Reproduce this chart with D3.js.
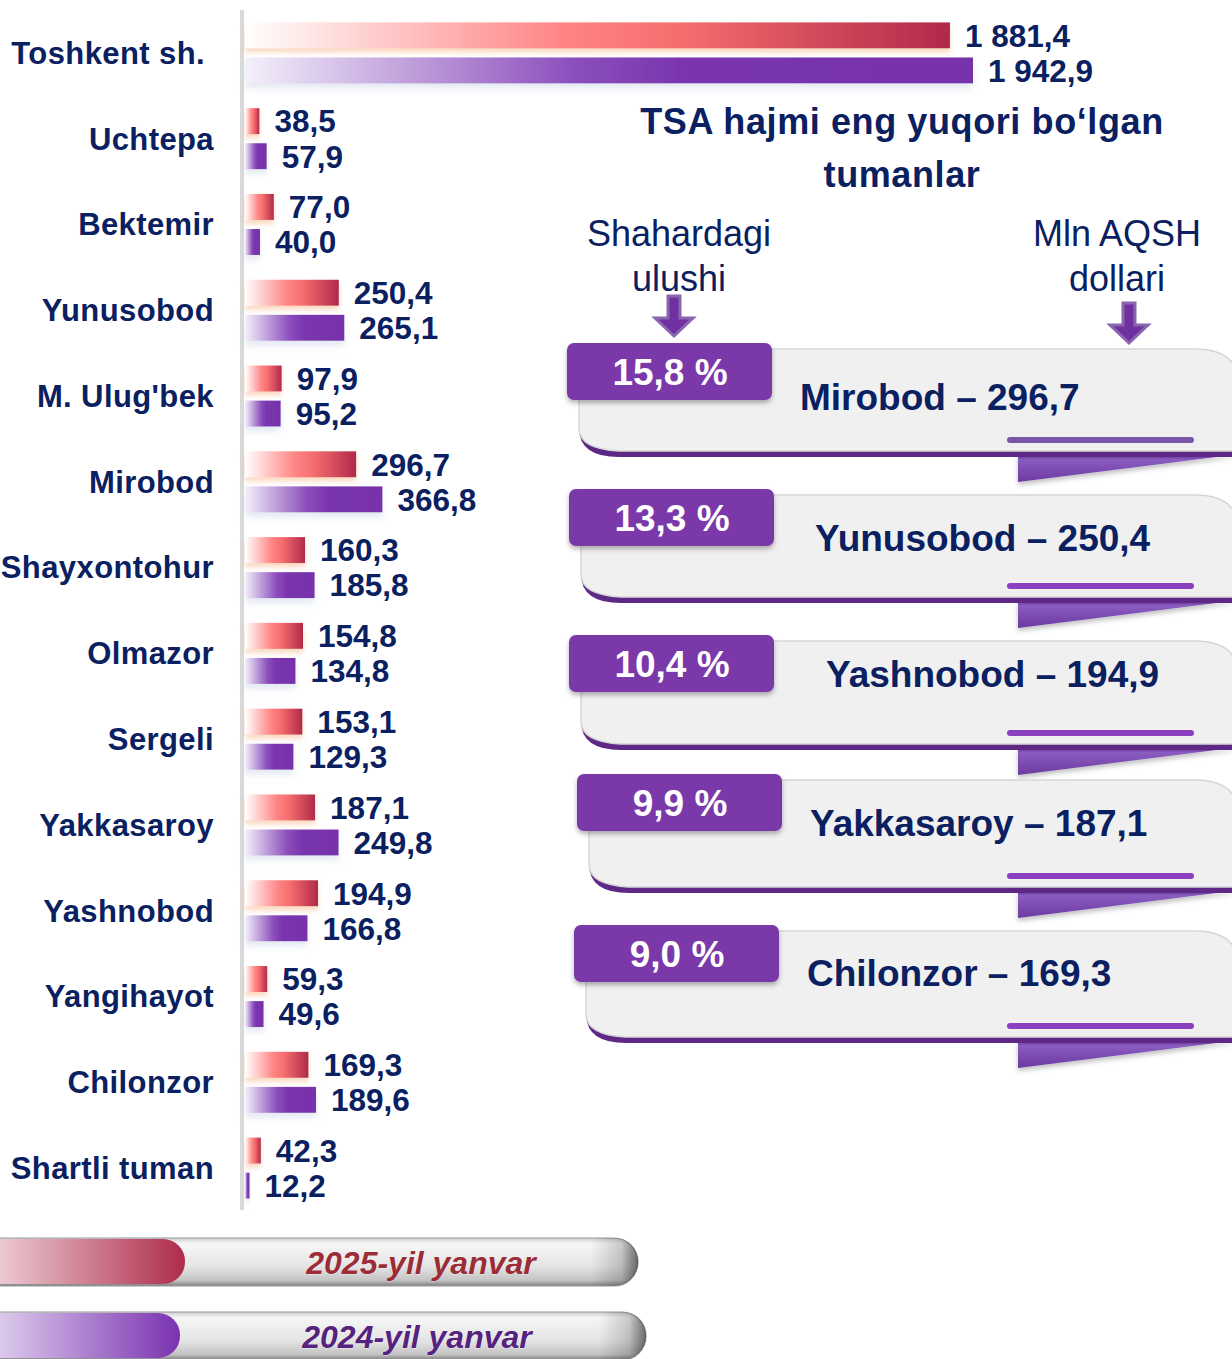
<!DOCTYPE html>
<html>
<head>
<meta charset="utf-8">
<script src="https://cdn.jsdelivr.net/npm/d3@7"></script>
<style>
  html, body { margin: 0; padding: 0; background: #ffffff; }
  svg { display: block; font-family: "Liberation Sans", Arial, sans-serif; }
</style>
</head>
<body>
<svg id="chart" width="1232" height="1359"></svg>
<script>
// ---------- DATA ----------
const categories = ["Toshkent sh.", "Uchtepa", "Bektemir", "Yunusobod", "M. Ulug'bek", "Mirobod",
  "Shayxontohur", "Olmazor", "Sergeli", "Yakkasaroy", "Yashnobod", "Yangihayot", "Chilonzor", "Shartli tuman"];
const values2025 = [1881.4, 38.5, 77.0, 250.4, 97.9, 296.7, 160.3, 154.8, 153.1, 187.1, 194.9, 59.3, 169.3, 42.3];
const values2024 = [1942.9, 57.9, 40.0, 265.1, 95.2, 366.8, 185.8, 134.8, 129.3, 249.8, 166.8, 49.6, 189.6, 12.2];
const seriesNames = ["2025-yil yanvar", "2024-yil yanvar"];

const panelTitle = ["TSA hajmi eng yuqori bo\u2018lgan", "tumanlar"];
const shareHeader = ["Shahardagi", "ulushi"];
const unitHeader = ["Mln AQSH", "dollari"];
const topDistricts = ["Mirobod", "Yunusobod", "Yashnobod", "Yakkasaroy", "Chilonzor"];
const topValues = [296.7, 250.4, 194.9, 187.1, 169.3];
const topShares = [15.8, 13.3, 10.4, 9.9, 9.0];

// ---------- LAYOUT ----------
const navy = "#0a2060";
const cardTop = [343, 489, 635, 774, 925];
const cardBottom = [452, 598, 745, 888, 1038];
const cardTabX = [567, 569, 569, 577, 574];
const cardTextX = [800, 815, 826, 810, 807];
const cardTextY = [397, 538, 674, 823, 973];

const locale = d3.formatLocale({decimal: ",", thousands: "\u00a0", grouping: [3], currency: ["", ""]});
const fmt = locale.format(",.1f");

const svg = d3.select("#chart");
const defs = svg.append("defs");

function hGrad(id, stops) {
  const g = defs.append("linearGradient").attr("id", id).attr("x1", "0%").attr("x2", "100%").attr("y1", "0%").attr("y2", "0%");
  stops.forEach(s => g.append("stop").attr("offset", s[0]).attr("stop-color", s[1]).attr("stop-opacity", s[2] == null ? 1 : s[2]));
}
function vGrad(id, stops) {
  const g = defs.append("linearGradient").attr("id", id).attr("x1", "0%").attr("x2", "0%").attr("y1", "0%").attr("y2", "100%");
  stops.forEach(s => g.append("stop").attr("offset", s[0]).attr("stop-color", s[1]).attr("stop-opacity", s[2] == null ? 1 : s[2]));
}
hGrad("gRed", [[0, "#ffffff"], [0.45, "#ff8585"], [0.62, "#f56d6d"], [1, "#b0294a"]]);
hGrad("gPur", [[0, "#f4f0fa"], [0.45, "#8c4fbc"], [0.6, "#7a35ae"], [1, "#7732ab"]]);
hGrad("gLegRed", [[0, "#f6e3e8"], [1, "#ae2c4a"]]);
hGrad("gLegPur", [[0, "#ece3f6"], [1, "#7a32b0"]]);
vGrad("gPill", [[0, "#cfcfcf"], [0.12, "#f6f6f6"], [0.6, "#e4e4e4"], [0.88, "#c4c4c4"], [1, "#808080"]]);
hGrad("gPillEnd", [[0, "#000000", 0], [0.93, "#000000", 0], [0.975, "#000000", 0.18], [1, "#000000", 0.55]]);
vGrad("gFold", [[0, "#5a2680"], [0.2, "#8a5cc0"], [1, "#6c3aa0"]]);

const fRed = defs.append("filter").attr("id", "shRed").attr("x", "-10%").attr("y", "-30%").attr("width", "130%").attr("height", "180%");
fRed.append("feDropShadow").attr("dx", 0).attr("dy", 4).attr("stdDeviation", 2.5).attr("flood-color", "#f7b98a").attr("flood-opacity", 0.55);
const fPur = defs.append("filter").attr("id", "shPur").attr("x", "-10%").attr("y", "-30%").attr("width", "130%").attr("height", "180%");
fPur.append("feDropShadow").attr("dx", 0).attr("dy", 5).attr("stdDeviation", 3).attr("flood-color", "#c9d3e6").attr("flood-opacity", 0.5);
const fTab = defs.append("filter").attr("id", "shTab").attr("x", "-10%").attr("y", "-20%").attr("width", "130%").attr("height", "160%");
fTab.append("feDropShadow").attr("dx", 0).attr("dy", 3).attr("stdDeviation", 2.5).attr("flood-color", "#000").attr("flood-opacity", 0.3);
const fFold = defs.append("filter").attr("id", "shFold").attr("x", "-10%").attr("y", "-20%").attr("width", "130%").attr("height", "160%");
fFold.append("feDropShadow").attr("dx", 0).attr("dy", 3).attr("stdDeviation", 2.5).attr("flood-color", "#000").attr("flood-opacity", 0.25);

// ---------- SCALES ----------
const x = d3.scaleLinear().domain([0, 1942.9]).range([245, 973]);
const y = d3.scaleBand().domain(categories).range([10, 1211]).padding(0);
const ySub = d3.scaleBand().domain(seriesNames).range([y.bandwidth() / 2 - 30.5, y.bandwidth() / 2 + 30.5]).paddingInner(0.26);

const rows = categories.map((c, i) => ({cat: c, v: [values2025[i], values2024[i]]}));

svg.append("line").attr("x1", 242).attr("x2", 242).attr("y1", 10).attr("y2", 1210)
  .attr("stroke", "#d9d9d9").attr("stroke-width", 4);

const yAxis = d3.axisLeft(y).tickSize(0).tickPadding(0);
const ga = svg.append("g").attr("transform", "translate(214,0)").call(yAxis);
ga.select(".domain").remove();
ga.selectAll("text").attr("fill", navy).attr("font-size", 31).attr("font-weight", "bold")
  .attr("letter-spacing", 0.4)
  .attr("font-family", "'Liberation Sans', Arial, sans-serif").attr("dy", "0.35em")
  .attr("x", (d, i) => i === 0 ? -9 : 0);

const grp = svg.append("g").selectAll("g").data(rows).join("g")
  .attr("transform", d => `translate(0,${y(d.cat)})`);
grp.selectAll("rect").data(d => d.v.map((v, j) => ({s: seriesNames[j], v, j}))).join("rect")
  .attr("x", x(0)).attr("y", d => ySub(d.s)).attr("width", d => x(d.v) - x(0)).attr("height", ySub.bandwidth())
  .attr("fill", d => d.j === 0 ? "url(#gRed)" : "url(#gPur)")
  .attr("filter", d => d.j === 0 ? "url(#shRed)" : "url(#shPur)");
grp.selectAll("text").data(d => d.v.map((v, j) => ({s: seriesNames[j], v, j}))).join("text")
  .attr("x", d => x(d.v) + 15).attr("y", d => ySub(d.s) + ySub.bandwidth() / 2).attr("dy", "0.36em")
  .attr("font-size", 31.5).attr("font-weight", "bold").attr("fill", navy)
  .text(d => fmt(d.v));

// ---------- RIGHT PANEL ----------
const title = svg.append("text").attr("text-anchor", "middle").attr("font-size", 36).attr("font-weight", "bold")
  .attr("fill", navy).attr("letter-spacing", 0.6);
title.selectAll("tspan").data(panelTitle).join("tspan").attr("x", 902).attr("y", (d, i) => 134 + i * 53).text(d => d);

function header(lines, cx) {
  svg.append("text").attr("text-anchor", "middle").attr("font-size", 36).attr("fill", navy)
    .selectAll("tspan").data(lines).join("tspan").attr("x", cx).attr("y", (d, i) => 246 + i * 45).text(d => d);
}
header(shareHeader, 679);
header(unitHeader, 1117);

function arrow(cx, top) {
  const p = `M${cx - 6},${top} L${cx + 6},${top} L${cx + 6},${top + 22} L${cx + 19},${top + 22} L${cx},${top + 40} L${cx - 19},${top + 22} L${cx - 6},${top + 22} Z`;
  svg.append("path").attr("d", p).attr("fill", "#7030a0").attr("stroke", "#8a66b0").attr("stroke-width", 3).attr("stroke-linejoin", "miter");
}
arrow(674, 296);
arrow(1129, 303);

topDistricts.forEach((name, i) => {
  const g = svg.append("g");
  const top = cardTop[i], bot = cardBottom[i], tx = cardTabX[i], left = tx + 12, bodyTop = top + 6;
  g.append("path").attr("d", `M1018,${bot + 2} L1240,${bot + 2} L1018,${bot + 30} Z`)
    .attr("fill", "url(#gFold)").attr("filter", "url(#shFold)");
  g.append("path").attr("d", `M${left},${bot - 24} Q${left},${bot + 5} ${left + 40},${bot + 5} L1240,${bot + 5} L1240,${bot - 1} L${left + 40},${bot - 1} Q${left + 2},${bot - 3} ${left},${bot - 24} Z`)
    .attr("fill", "#5e2886");
  g.append("path").attr("d", `M${left},${bodyTop} L1195,${bodyTop} Q1240,${bodyTop} 1240,${bodyTop + 40} L1240,${bot - 1} L${left + 40},${bot - 1} Q${left},${bot - 3} ${left},${bot - 24} Z`)
    .attr("fill", "#f0f0f0").attr("stroke", "#d6d6d6").attr("stroke-width", 1.5);
  g.append("line").attr("x1", 1010).attr("x2", 1191).attr("y1", bot - 12).attr("y2", bot - 12)
    .attr("stroke", i === 0 ? "#7d55a8" : "#8a3fc0").attr("stroke-width", 6).attr("stroke-linecap", "round");
  g.append("rect").attr("x", tx).attr("y", top).attr("width", 205).attr("height", 57).attr("rx", 7)
    .attr("fill", "#7a37a9").attr("filter", "url(#shTab)");
  g.append("text").attr("x", tx + 103).attr("y", top + 29).attr("dy", "0.36em").attr("text-anchor", "middle")
    .attr("font-size", 37).attr("font-weight", "bold").attr("fill", "#ffffff")
    .text(locale.format(".1f")(topShares[i]) + " %");
  g.append("text").attr("x", cardTextX[i]).attr("y", cardTextY[i]).attr("dy", "0.36em")
    .attr("font-size", 37).attr("font-weight", "bold").attr("fill", navy)
    .text(`${name} \u2013 ${fmt(topValues[i])}`);
});

// ---------- LEGEND ----------
function legend(yTop, pillW, colW, gradId, label, color, cx) {
  const g = svg.append("g");
  g.append("rect").attr("x", -30).attr("y", yTop).attr("width", pillW + 30).attr("height", 48).attr("rx", 24)
    .attr("fill", "url(#gPill)").attr("stroke", "#9a9a9a").attr("stroke-width", 1.2);
  g.append("rect").attr("x", -30).attr("y", yTop).attr("width", pillW + 30).attr("height", 48).attr("rx", 24)
    .attr("fill", "url(#gPillEnd)");
  g.append("rect").attr("x", -30).attr("y", yTop + 1).attr("width", colW + 30).attr("height", 45).attr("rx", 22)
    .attr("fill", `url(#${gradId})`);
  g.append("text").attr("x", cx).attr("y", yTop + 24).attr("dy", "0.36em").attr("text-anchor", "middle")
    .attr("font-size", 32).attr("font-weight", "bold").attr("font-style", "italic").attr("fill", color)
    .attr("stroke", "#ffffff").attr("stroke-width", 0.6).attr("paint-order", "stroke")
    .text(label);
}
legend(1238, 638, 185, "gLegRed", seriesNames[0], "#9b2d38", 421);
legend(1312, 646, 180, "gLegPur", seriesNames[1], "#55227e", 417);
</script>
</body>
</html>
